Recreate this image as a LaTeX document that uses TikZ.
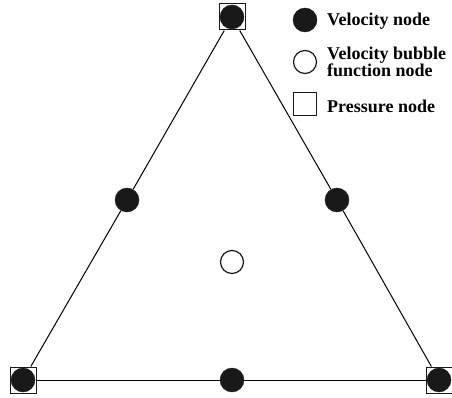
\documentclass[tikz,border=0pt]{standalone}
\usepackage{fontspec}
\setmainfont{Liberation Serif}
\usetikzlibrary{positioning}

\begin{document}
\begin{tikzpicture}[
        x=1pt, y=-1pt,
        every node/.style={font=\fontsize{18}{17}\selectfont\bfseries},
        vel/.style={circle, fill=black!90, draw=black!90, minimum size=24pt, inner sep=0pt},
        bubble/.style={circle, draw=black!90, line width=1.2pt, fill=white, minimum size=23pt, inner sep=0pt},
        pres/.style={rectangle, draw=black!90, line width=1pt, fill=white, minimum size=26pt, inner sep=0pt},
        legend/.style={anchor=west, inner sep=0pt, align=left}
    ]
        \useasboundingbox (0,0) rectangle (452,398);

        % Nodes
        \node (v1) [pres] at (232,17) {};
        \node (v2) [pres] at (23,380) {};
        \node (v3) [pres] at (439,380) {};
        \node (c1) [vel] at (v1) {};
        \node (c2) [vel] at (v2) {};
        \node (c3) [vel] at (v3) {};
        \node (m1) [vel] at (127,200) {};
        \node (m2) [vel] at (337,200) {};
        \node (m3) [vel] at (232,380) {};
        \node (bub) [bubble] at (232,262) {};

        % Edges
        \draw [line width=1pt] (v1) -- (m1) -- (v2);
        \draw [line width=1pt] (v2) -- (m3) -- (v3);
        \draw [line width=1pt] (v3) -- (m2) -- (v1);

        % Legend
        \node (lv) [vel, minimum size=24pt] at (305,20) {};
        \node (lb) [bubble] at (305,62) {};
        \node (lp) [pres, minimum size=23pt] at (305,104) {};
        \node (tv) [legend] at (327,21) {Velocity node};
        \node (tb) [legend] at (327,62) {Velocity bubble\\function node};
        \node (tp) [legend] at (327,106) {Pressure node};
    \end{tikzpicture}
\end{document}
